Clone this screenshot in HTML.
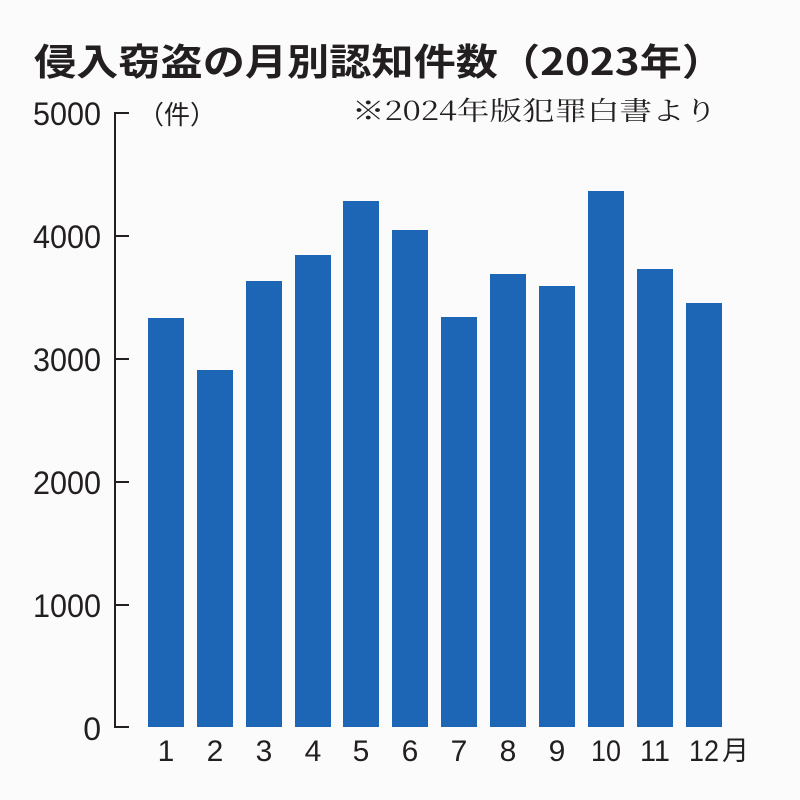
<!DOCTYPE html>
<html><head><meta charset="utf-8"><style>
body{margin:0;background:#fff;}
svg{display:block;}
text{font-family:"Liberation Sans","Noto Sans CJK JP",sans-serif;fill:#231f20;}
</style></head><body>
<svg width="800" height="800" viewBox="0 0 800 800">
<rect width="800" height="800" fill="#fbfbfb"/>
<text x="34" y="75" font-size="37" font-weight="bold" style="font-family:'Noto Sans CJK JP',sans-serif" textLength="690" lengthAdjust="spacingAndGlyphs">侵入窃盗の月別認知件数（2023年）</text>
<text x="138" y="124" font-size="26" style="font-family:'Noto Sans CJK JP',sans-serif">（件）</text>
<text x="352" y="120" font-size="26" style="font-family:'Noto Serif CJK SC',serif" textLength="365" lengthAdjust="spacingAndGlyphs">※2024年版犯罪白書より</text>
<g font-size="32" text-anchor="end">
<text x="101" y="125" textLength="68" lengthAdjust="spacingAndGlyphs">5000</text>
<text x="101" y="248" textLength="68" lengthAdjust="spacingAndGlyphs">4000</text>
<text x="101" y="371" textLength="68" lengthAdjust="spacingAndGlyphs">3000</text>
<text x="101" y="494" textLength="68" lengthAdjust="spacingAndGlyphs">2000</text>
<text x="101" y="617" textLength="68" lengthAdjust="spacingAndGlyphs">1000</text>
<text x="101" y="740">0</text>
</g>
<g stroke="#231f20" stroke-width="2" fill="none">
<path d="M115 112V728"/>
<path d="M115 113H129M115 236H129M115 359H129M115 482H129M115 605H129M115 727H129"/>
</g>
<g fill="#1d66b6">
<rect x="148" y="318" width="36" height="409"/>
<rect x="197" y="370" width="36" height="357"/>
<rect x="246" y="281" width="36" height="446"/>
<rect x="295" y="255" width="36" height="472"/>
<rect x="343" y="201" width="36" height="526"/>
<rect x="392" y="230" width="36" height="497"/>
<rect x="441" y="317" width="36" height="410"/>
<rect x="490" y="274" width="36" height="453"/>
<rect x="539" y="286" width="36" height="441"/>
<rect x="588" y="191" width="36" height="536"/>
<rect x="637" y="269" width="36" height="458"/>
<rect x="686" y="303" width="36" height="424"/>
</g>
<g font-size="30" text-anchor="middle">
<text x="166" y="761">1</text><text x="215" y="761">2</text><text x="264" y="761">3</text>
<text x="313" y="761">4</text><text x="361" y="761">5</text><text x="410" y="761">6</text>
<text x="459" y="761">7</text><text x="508" y="761">8</text><text x="557" y="761">9</text>
<text x="606" y="761" textLength="30" lengthAdjust="spacingAndGlyphs">10</text>
<text x="655" y="761" textLength="30" lengthAdjust="spacingAndGlyphs">11</text>
<text x="704" y="761" textLength="30" lengthAdjust="spacingAndGlyphs">12</text>
</g>
<text x="722" y="760" font-size="27" style="font-family:'Noto Sans CJK JP',sans-serif">月</text>
</svg>
</body></html>
